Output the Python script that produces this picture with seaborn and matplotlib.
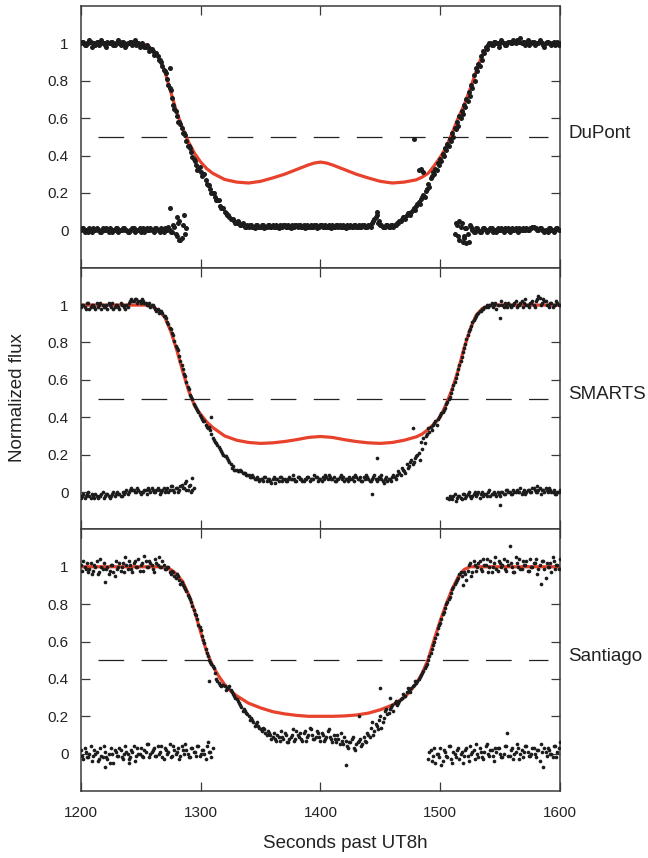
import numpy as np
import pandas as pd
import matplotlib
matplotlib.use("Agg")
import matplotlib.pyplot as plt
import seaborn as sns

# ---------------- data (flux values in percent of normalized flux) ----------------
# sampling grids (seconds past UT8h)
even_t = np.arange(1200, 1601, 2)
odd_t = np.arange(1201, 1600, 2)

# ---- DuPont ----
dupont_flux_pct = [
    100, 101, 99, 100, 101, 100, 99, 101, 100, 100, 99, 101, 100, 101, 99, 100, 100, 101, 100, 99,
    100, 101, 100, 99, 100, 99,
    99, 98, 98, 97, 96, 95, 93, 91, 88, 85, 81, 76, 71, 65, 61, 58, 55, 52, 48, 45,
    42, 38, 35, 33, 31, 30, 27, 24, 22, 20, 18, 16, 13, 12, 10, 8, 7, 6, 5, 4, 4, 3, 3, 2,
    2, 3, 2, 3, 2, 2, 3, 2, 3, 2, 3, 2, 2, 3, 2, 3, 2, 2, 3, 2, 3, 3, 2, 3, 2, 2, 3, 2, 3, 2,
    3, 2, 3, 2, 2, 3, 2, 3, 3, 2, 2, 3, 2, 2, 3, 2, 3, 2, 3, 2, 3, 2, 5, 7, 4, 3, 2, 2, 3, 2, 3,
    3, 4, 5, 6, 7, 8, 9, 10, 12, 13, 15, 17, 19, 21, 25, 28, 31, 33, 36, 38,
    41, 44, 46, 49, 52, 55, 58, 61, 64, 67, 70, 74, 78, 83, 87, 89, 93, 96, 98, 99,
    100, 99, 101, 100, 100, 101, 99, 100, 101, 100, 101, 102, 101, 100, 101, 100, 99, 100, 101, 100,
    100, 101, 99, 100, 101, 100, 100, 99, 101, 100,
]
dupont_flux2_pct = [
    101, 99, 100, 102, 98, 100, 101, 99, 102, 100, 98, 100, 101, 99, 100, 102, 99, 101, 98, 100,
    101, 99, 102, 100, 98,
    100, 98, 99, 96, 97, 94, 95, 91, 90, 86, 84, 78, 75, 67, 64, 58, 57, 52, 51, 45,
    44, 39, 37, 32, 34, 29, 30, 25, 24, 20, 20, 16, 16, 12, 12, 9, 8, 6, 6, 4, 5, 3, 4, 2, 3,
    3, 2, 1, 3, 2, 3, 1, 2, 3, 2, 2, 3, 1, 2, 3, 2, 3, 1, 2, 3, 2, 3, 2, 1, 3, 2, 2, 3, 1, 2,
    3, 2, 2, 3, 1, 2, 3, 2, 2, 3, 1, 2, 3, 2, 3, 2, 2, 3, 2, 2, 3, 4, 6, 8, 5, 3, 2, 3, 2, 3, 2,
    3, 4, 5, 7, 6, 9, 8, 11, 11, 14, 14, 18, 18, 22, 23, 29, 30, 32, 35, 37,
    40, 43, 45, 48, 50, 54, 56, 60, 62, 66, 69, 72, 76, 80, 85, 88, 91, 95, 97, 100,
    99, 101, 100, 98, 102, 100, 99, 101, 100, 102, 100, 101, 103, 101, 99, 102, 100, 101, 99, 100,
    102, 100, 98, 101, 100, 99, 101, 100, 99,
]
dupont_res_left_t = np.arange(1200, 1289, 2)
dupont_res_left_pct = [
    0, 1, 0, -1, 0, 1, 0, 0, -1, 1, 0, 0, 1, -1, 0, 1, 0, 0, 1, 0,
    -1, 0, 1, 0, 0, -1, 1, 0, 0, 1, 0, 1, 0, -1, 0, 1, 0, 0, -1, 2, -3, 5, -4, 8, 1,
]
dupont_res_left2_t = np.arange(1201, 1288, 2)
dupont_res_left2_pct = [
    1, -1, 0, 1, -1, 0, 1, 0, -1, 0, 1, -1, 0, 0, 1, -1, 0, 1, 0, -1,
    0, 1, -1, 0, 1, 0, -1, 1, 0, 0, -1, 1, 0, 1, -1, 0, 2, -1, 3, -2, 4, -5, 3, -2,
]
dupont_res_right_t = np.arange(1512, 1601, 2)
dupont_res_right_pct = [
    -2, 3, -5, 4, -3, 1, -6, 2, -1, 1, 0, -1, 1, 0, 0, 1, -1, 0, 1, 0,
    0, 1, 0, -1, 1, 0, 0, 1, 0, 0, 1, 0, 1, 2, 1, 0, 1, 0, 0, -1, 1, 0, 0, 1, 0,
]
dupont_res_right2_t = np.arange(1513, 1600, 2)
dupont_res_right2_pct = [
    4, -3, 2, -6, 1, -2, 3, 0, -1, 1, -1, 0, 1, -1, 0, 1, 0, -1, 0, 1,
    -1, 0, 1, 0, 0, 1, -1, 0, 1, 0, 0, 1, 2, 1, 0, 1, 0, -1, 0, 1, 0, -1, 1, 0,
]
dupont_extra_t = [1274, 1478, 1447, 1482, 1484, 1486, 1274, 1282, 1280, 1522, 1516, 1520]
dupont_extra_f = [0.87, 0.49, 0.10, 0.32, 0.33, 0.31, 0.12, -0.05, 0.07, -0.07, 0.05, -0.04]
dupont_model_t = [1200, 1250, 1255, 1260, 1265, 1270, 1275, 1280, 1285, 1290,
                  1295, 1300, 1305, 1310, 1320, 1330, 1340, 1350, 1360, 1370,
                  1380, 1390, 1395, 1400, 1405, 1410, 1420, 1430, 1440, 1450,
                  1460, 1470, 1480, 1485, 1490, 1495, 1500, 1505, 1510, 1515,
                  1520, 1525, 1530, 1535, 1540, 1545, 1600]
dupont_model_f = [1.0, 1.0, 0.99, 0.965, 0.925, 0.85, 0.74, 0.63, 0.545, 0.47,
                  0.41, 0.365, 0.33, 0.305, 0.272, 0.258, 0.253, 0.262, 0.28, 0.30,
                  0.325, 0.35, 0.36, 0.365, 0.36, 0.35, 0.325, 0.30, 0.28, 0.262,
                  0.253, 0.258, 0.27, 0.285, 0.305, 0.345, 0.39, 0.445, 0.52, 0.60,
                  0.67, 0.755, 0.85, 0.935, 0.99, 1.0, 1.0]

# ---- SMARTS ----
smarts_flux_pct = [
    99, 100, 98, 101, 99, 100, 98, 99, 101, 100, 99, 98, 100, 101, 99, 100, 98, 100, 99, 100, 101,
    103, 102, 103, 102, 101, 102, 101, 100, 99, 100, 98,
    98, 97, 96, 94, 91, 88, 85, 81, 77, 73, 68, 63, 59, 55, 51, 47, 45, 43, 40, 38, 36, 34, 33, 29,
    27, 25, 23, 21, 19, 18, 16, 13, 12, 12, 11, 11, 10, 9, 9, 8, 8, 7, 7,
    7, 6, 8, 7, 6, 7, 5, 7, 8, 6, 7, 6, 8, 7, 7, 6, 8, 7, 6, 7, 8, 7, 7, 8, 6, 7, 8, 9, 7, 8,
    7, 6, 7, 8, 7, 6, 7, 8, 7, 6, 8, 7, 6, 8, 9, 7, 6, 8, 7, 7, 8, 6, 7, 6, 7, 8,
    8, 9, 10, 13, 11, 15, 14, 17, 16, 19, 21, 27, 29, 30, 34, 35, 36, 38, 39, 41,
    43, 45, 48, 51, 55, 59, 63, 68, 72, 77, 82, 86, 89, 92, 94, 96, 97, 98, 99, 99,
    100, 99, 101, 100, 93, 100, 101, 99, 100, 100, 101, 99, 100, 102, 101, 100, 99, 101, 100, 102,
    105, 100, 103, 102, 100, 101, 99, 100, 101, 100,
]
smarts_flux2_pct = [
    100, 99, 101, 98, 100, 99, 101, 100, 98, 99, 100, 101, 99, 98, 100, 99, 101, 100, 98, 99, 102,
    102, 103, 101, 102, 103, 101, 100, 101, 100, 99, 97,
    96, 97, 94, 93, 90, 87, 84, 78, 76, 70, 66, 62, 56, 52, 50, 46, 44, 41, 39, 38, 35, 35, 31, 28,
    26, 24, 22, 20, 19, 17, 15, 14, 12, 11, 12, 10, 10, 9, 8, 9, 7, 8, 6,
    7, 8, 6, 7, 5, 8, 7, 6, 8, 7, 6, 7, 7, 9, 6, 8, 7, 6, 7, 8, 6, 7, 9, 8, 7, 6, 7, 8, 9, 7,
    8, 6, 7, 9, 8, 7, 6, 7, 8, 9, 7, 8, 6, 7, 8, 6, 7, 9, 6, 8, 7, 5, 8, 7, 6, 9,
    7, 11, 9, 12, 10, 13, 16, 15, 18, 20, 17, 23, 26, 31, 32, 33, 37, 36, 40, 42,
    44, 47, 50, 53, 57, 61, 66, 70, 75, 79, 84, 87, 91, 93, 95, 97, 98, 99, 100, 100,
    101, 100, 98, 100, 102, 99, 100, 101, 99, 100, 102, 100, 101, 99, 103, 100, 101, 102, 99, 103,
    104, 101, 102, 100, 99, 101, 100, 102, 100,
]
smarts_res_left_t = np.arange(1200, 1295, 2)
smarts_res_left_pct = [
    -3, -1, -2, 0, -3, -2, -1, -3, -2, 0, -2, -1, -3, -1, -2, 0, -1, -2, -1, 1,
    0, 2, 1, 0, 1, -1, 0, 1, 2, 0, 1, 0, 2, -1, 1, 0, 2, 1, 3, 0, 2, 1, 4, 2, 1, 3, 0, 2,
]
smarts_res_left2_t = np.arange(1201, 1294, 2)
smarts_res_left2_pct = [
    -2, -3, -1, -2, -1, -3, -2, -2, -1, -3, -1, -2, -2, 0, -1, -1, -2, 0, 0, -1,
    1, 1, 0, 2, 0, 0, 1, -1, 1, 2, 0, 1, 1, 0, 2, 1, 0, 3, 1, 2, 0, 3, 2, 5, 1, 4, 1,
]
smarts_res_right_t = np.arange(1506, 1601, 2)
smarts_res_right_pct = [
    -3, -2, -4, -1, -3, -2, -4, -1, -2, 0, -3, -1, -2, 0, -1, -2, -1, 0, -2, -1,
    -1, 0, -2, 0, -1, 1, 0, -1, 0, 1, 0, -1, 1, 0, 1, 0, 2, 0, 1, -1, 1, 2, 0, 1, 0, -1, 0, 1,
]
smarts_res_right2_t = np.arange(1507, 1600, 2)
smarts_res_right2_pct = [
    -4, -3, -2, -5, -2, -3, -1, -3, -1, -2, -2, 0, -1, -3, 0, -1, -2, 1, -1, 0,
    -2, -1, 0, -1, 1, 0, -1, 1, 0, 0, 2, 0, -1, 1, 0, 2, 1, 0, 2, 1, 0, 1, 2, 0, 1, -1, 0,
]
smarts_extra_t = [1309, 1477, 1447, 1443, 1293, 1288, 1550, 1581, 1451]
smarts_extra_f = [0.40, 0.34, 0.18, -0.01, 0.075, 0.06, -0.07, 0.03, 0.09]
smarts_model_t = [1200, 1255, 1260, 1265, 1270, 1275, 1280, 1285, 1290, 1295,
                  1300, 1305, 1310, 1320, 1330, 1340, 1350, 1360, 1370, 1380,
                  1390, 1400, 1410, 1420, 1430, 1440, 1450, 1460, 1470, 1480,
                  1485, 1490, 1495, 1500, 1505, 1510, 1515, 1520, 1525, 1530,
                  1535, 1540, 1545, 1600]
smarts_model_f = [1.0, 1.0, 0.99, 0.97, 0.935, 0.86, 0.76, 0.645, 0.54, 0.46,
                  0.415, 0.375, 0.345, 0.30, 0.277, 0.265, 0.26, 0.263, 0.27, 0.28,
                  0.292, 0.297, 0.292, 0.28, 0.27, 0.263, 0.26, 0.265, 0.277, 0.295,
                  0.31, 0.335, 0.365, 0.40, 0.47, 0.55, 0.65, 0.77, 0.87, 0.945,
                  0.98, 0.995, 1.0, 1.0]

# ---- Santiago ----
santiago_flux_pct = [
    101, 103, 99, 97, 102, 98, 100, 96, 104, 99, 92, 100, 98, 101, 95, 99, 102, 100, 97, 101,
    103, 99, 102, 100, 104, 101, 98, 103, 100, 102, 99, 104, 101, 100, 103, 99,
    100, 97, 98, 95, 96, 93, 92, 89, 87, 84, 81, 77, 74, 69, 66, 61, 56, 52, 49, 47,
    43, 39, 37, 37, 36, 35, 36, 33, 31, 29, 27, 25, 24, 22, 20, 19, 17, 16, 15, 13, 14, 11, 12, 10, 9,
    8, 10, 7, 9, 11, 6, 8, 10, 7, 12, 9, 8, 11, 7, 10, 13, 8, 9, 11, 7,
    10, 8, 12, 9, 6, 8, 10, 5, 7, 9, 4, 6, 8, 3, 5, 7, 4, 9, 6, 10,
    14, 10, 16, 13, 20, 17, 23, 21, 24, 26, 27, 26, 28, 30, 31, 33, 34, 35, 37, 38, 40, 42, 44, 47, 50,
    54, 58, 62, 67, 70, 75, 78, 81, 84, 88, 91, 93, 96, 95, 97, 93, 101, 95, 103, 98,
    102, 99, 104, 101, 97, 103, 100, 105, 98, 102, 101, 99, 103, 111, 100, 97, 102, 104, 99, 101,
    103, 98, 100, 102, 104, 99, 91, 103, 94, 100, 102, 105, 99, 101, 104,
]
santiago_flux2_pct = [
    98, 100, 102, 99, 96, 101, 103, 97, 100, 102, 99, 96, 101, 97, 103, 100, 98, 102, 105, 99,
    101, 97, 103, 100, 98, 102, 106, 100, 103, 101, 97, 102, 105, 100, 101,
    99, 100, 96, 97, 94, 95, 91, 90, 88, 85, 83, 79, 75, 72, 68, 63, 59, 54, 50, 48,
    46, 40, 38, 36, 37, 34, 35, 34, 32, 30, 28, 26, 23, 23, 21, 18, 18, 15, 17, 14, 12, 13, 10, 11, 8,
    11, 7, 9, 12, 8, 10, 6, 9, 13, 8, 10, 11, 7, 12, 9, 14, 10, 8, 12, 9,
    11, 7, 9, 13, 8, 10, 6, 8, 11, 5, 7, 3, 6, 9, 2, 6, 8, 5, 7, 11,
    9, 17, 12, 15, 18, 14, 19, 24, 22, 25, 23, 28, 27, 29, 32, 31, 35, 33, 36, 39, 39, 41, 43, 46, 48,
    52, 56, 60, 64, 69, 72, 76, 80, 83, 86, 89, 92, 94, 97, 90, 96, 98, 102, 97, 101,
    100, 103, 98, 101, 104, 100, 97, 102, 99, 103, 100, 104, 98, 101, 102, 97, 105, 100, 99, 103,
    101, 98, 104, 100, 102, 96, 101, 103, 99, 102, 100, 97, 103, 101, 99,
]
santiago_res_left_t = np.arange(1200, 1311, 2)
santiago_res_left_pct = [
    2, -3, 1, -2, 4, -1, 0, -4, 3, -2, 1, -3, -5, 0, 2, -1, 3, -2, 0, 1,
    -3, 2, 4, -1, 0, 3, -2, 1, 5, 0, 2, -1, 4, 1, -2, 3, 0, 5, -1, 2,
    1, -3, 4, 0, 2, -2, 3, 1, -1, 4, 0, 2, -3, 6, 1, 3,
]
santiago_res_left2_t = np.arange(1201, 1310, 2)
santiago_res_left2_pct = [
    -1, 3, -2, 0, -4, 2, 1, -3, -1, 4, -2, 0, 3, -5, 1, -1, 2, -3, 4, 0,
    -2, 1, -4, 3, 0, -1, 2, 5, -2, 1, 3, -1, 0, 4, -3, 2, 1, -2, 4, 0,
    3, -1, 2, 5, 0, -2, 3, 1, 4, -1, 2, 0, 4, 1, -2,
]
santiago_res_right_t = np.arange(1490, 1601, 2)
santiago_res_right_pct = [
    -3, 2, -1, -5, 0, 3, -4, 1, -2, 4, -5, 0, 2, -3, 1, -1, 3, -4, 0, 2,
    5, -2, 1, -3, 4, 0, 2, -1, 3, 3, 0, -2, 4, 11, -1, 3, 0, 5, -3, 2,
    1, 4, -1, 0, 3, -2, 2, 5, -7, 1, 3, 0, -2, 4, 1, 6,
]
santiago_res_right2_t = np.arange(1491, 1600, 2)
santiago_res_right2_pct = [
    1, -4, 3, 0, -2, -6, 2, -1, 4, -3, 1, -2, 3, 0, -5, 2, -1, 4, 1, -3,
    0, 3, -2, 1, 5, -1, 2, -4, 1, 3, -2, 0, 4, -1, 2, -3, 1, 3, 0, -2,
    4, 1, -1, 3, 0, 2, -4, 1, 3, -1, 2, 0, 4, -2, 3,
]
santiago_extra_t = [1307, 1450, 1421, 1432, 1220, 1240, 1458]
santiago_extra_f = [0.39, 0.35, -0.06, 0.20, -0.07, -0.05, 0.30]
santiago_model_t = [1200, 1265, 1270, 1275, 1280, 1285, 1290, 1295, 1300, 1305,
                    1310, 1315, 1320, 1325, 1330, 1340, 1350, 1360, 1370, 1380,
                    1390, 1400, 1410, 1420, 1430, 1440, 1450, 1460, 1465, 1470,
                    1475, 1480, 1485, 1490, 1495, 1500, 1505, 1510, 1515, 1520,
                    1525, 1600]
santiago_model_f = [1.0, 1.0, 0.995, 0.985, 0.96, 0.92, 0.85, 0.76, 0.65, 0.545,
                    0.47, 0.415, 0.37, 0.335, 0.31, 0.27, 0.245, 0.225, 0.213, 0.205,
                    0.2, 0.2, 0.2, 0.202, 0.207, 0.217, 0.235, 0.26, 0.28, 0.30,
                    0.335, 0.375, 0.43, 0.505, 0.61, 0.71, 0.80, 0.88, 0.945, 0.985,
                    1.0, 1.0]

station_names = ["DuPont", "SMARTS", "Santiago"]
half_level = 0.5
x_ticks = [1200, 1300, 1400, 1500, 1600]
y_ticks = [0, 0.2, 0.4, 0.6, 0.8, 1.0]
y_tick_labels = ["0", "0.2", "0.4", "0.6", "0.8", "1"]


def pct_frame(t, pct):
    return pd.DataFrame({"t": np.asarray(t, dtype=float), "flux": np.array(pct) / 100.0})


def build(pairs, ex_t, ex_f):
    frames = [pct_frame(t, p) for t, p in pairs]
    frames.append(pd.DataFrame({"t": np.asarray(ex_t, dtype=float), "flux": ex_f}))
    return pd.concat(frames, ignore_index=True)


panels = [
    (build([(even_t, dupont_flux_pct), (odd_t, dupont_flux2_pct),
            (dupont_res_left_t, dupont_res_left_pct), (dupont_res_left2_t, dupont_res_left2_pct),
            (dupont_res_right_t, dupont_res_right_pct), (dupont_res_right2_t, dupont_res_right2_pct)],
           dupont_extra_t, dupont_extra_f),
     pd.DataFrame({"t": dupont_model_t, "flux": dupont_model_f}), 13),
    (build([(even_t, smarts_flux_pct), (odd_t, smarts_flux2_pct),
            (smarts_res_left_t, smarts_res_left_pct), (smarts_res_left2_t, smarts_res_left2_pct),
            (smarts_res_right_t, smarts_res_right_pct), (smarts_res_right2_t, smarts_res_right2_pct)],
           smarts_extra_t, smarts_extra_f),
     pd.DataFrame({"t": smarts_model_t, "flux": smarts_model_f}), 7),
    (build([(even_t, santiago_flux_pct), (odd_t, santiago_flux2_pct),
            (santiago_res_left_t, santiago_res_left_pct), (santiago_res_left2_t, santiago_res_left2_pct),
            (santiago_res_right_t, santiago_res_right_pct), (santiago_res_right2_t, santiago_res_right2_pct)],
           santiago_extra_t, santiago_extra_f),
     pd.DataFrame({"t": santiago_model_t, "flux": santiago_model_f}), 7),
]

# ---------------- style ----------------
sns.set_style("ticks")
plt.rcParams["font.family"] = ["Liberation Sans", "DejaVu Sans"]
plt.rcParams["lines.scale_dashes"] = False

red = "#e8412c"
dot = "#1c1c1c"
spine_col = "#3a3a3a"

fig, axes = plt.subplots(3, 1, figsize=(6.48, 8.58), dpi=100, sharex=True)
fig.subplots_adjust(left=0.125, right=0.864, top=0.993, bottom=0.078, hspace=0)

for ax, name, (pts, model, size) in zip(axes, station_names, panels):
    ax.axhline(half_level, xmin=0.035, xmax=0.975, color="#222222", lw=0.9,
               dashes=(18.5, 12.5), zorder=1)
    sns.lineplot(data=model, x="t", y="flux", ax=ax, color=red, lw=2.3,
                 estimator=None, sort=False, zorder=2)
    sns.scatterplot(data=pts, x="t", y="flux", ax=ax, color=dot, s=size,
                    linewidth=0, zorder=3)
    ax.set_xlim(1200, 1600)
    ax.set_ylim(-0.2, 1.2)
    ax.set_xticks(x_ticks)
    ax.set_yticks(y_ticks)
    ax.set_yticklabels(y_tick_labels)
    ax.set_xlabel("")
    ax.set_ylabel("")
    for sp in ax.spines.values():
        sp.set_visible(True)
        sp.set_color(spine_col)
        sp.set_linewidth(1.1)
    ax.tick_params(axis="both", which="major", direction="in", length=6.5,
                   width=0.9, color=spine_col, top=True, right=True,
                   labelsize=11, labelcolor="#222222")
    ax.tick_params(axis="y", pad=9)
    ax.tick_params(axis="x", pad=11)
    ax.text(1.017, 0.52, name, transform=ax.get_yaxis_transform(),
            ha="left", va="center", fontsize=13.5, color="#222222")

for ax in axes[:-1]:
    ax.tick_params(axis="x", labelbottom=False)

fig.text(345 / 648, 1 - 843 / 858, "Seconds past UT8h", ha="center", va="center",
         fontsize=13.5, color="#222222")
fig.text(18 / 648, 1 - 398 / 858, "Normalized flux", ha="center", va="center",
         rotation=90, fontsize=13.5, color="#222222")

fig.savefig("out.png", dpi=100)
